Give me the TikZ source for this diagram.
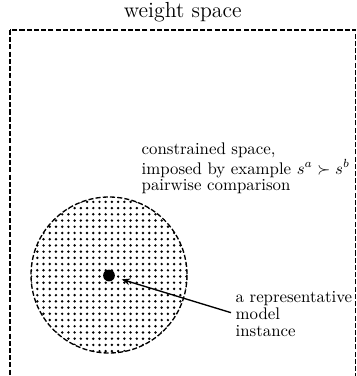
\documentclass[tikz,border=0pt]{standalone}
\usepackage{amsmath}
\usepackage{amssymb}
\usetikzlibrary{
    arrows.meta,
    patterns.meta
}

\begin{document}
\begin{tikzpicture}[x=0.595pt,y=-0.595pt,thick,
    dashline/.style={dash pattern=on 3pt off 1.3pt},
    lbl/.style={align=left,inner sep=0pt,font=\fontsize{10pt}{10pt}\selectfont}]

\clip (0,0) rectangle (356,376);

% weight space
\draw[dashline] (10,30) rectangle (355.5,400);
\node[anchor=base,font=\fontsize{13pt}{15pt}\selectfont] (wspace) at (182.75,18) {weight space};

% constrained space
\fill[pattern={Dots[distance=3.7pt,radius=0.8pt]}] (109,275) circle[radius=78];
\draw[dashline] (109,275) circle[radius=78];

\node[lbl,anchor=north west] (cons) at (141,142.5)
    {constrained space,\\imposed by example $s^a \succ s^b$\\pairwise comparison};

% model instance
\node[circle,fill,inner sep=0pt,minimum size=7pt] (inst) at (109,275.5) {};

\node[lbl,anchor=north west] (rep) at (235,290.8)
    {a representative\\model\\instance};

\draw[-{Stealth[length=5pt,width=4pt]},shorten <=2.5pt,shorten >=4pt]
    (rep.west) -- (inst);

\end{tikzpicture}
\end{document}
